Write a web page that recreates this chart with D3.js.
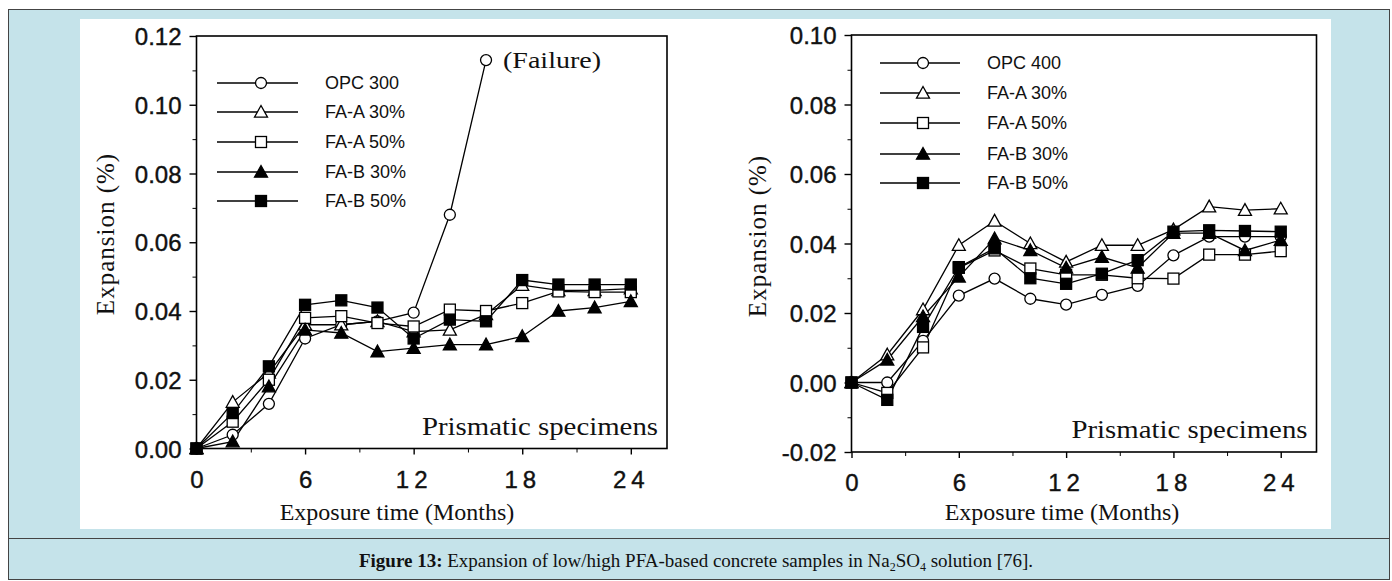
<!DOCTYPE html>
<html>
<head>
<meta charset="utf-8">
<script src="https://cdn.jsdelivr.net/npm/d3@7"></script>
<style>
  html, body { margin: 0; padding: 0; background: #fff; }
  svg { display: block; }
</style>
</head>
<body>
<div id="fig"></div>
<script>
// ---------------------------------------------
// Daten
// ---------------------------------------------
const months = [0, 2, 4, 6, 8, 10, 12, 14, 16, 18, 20, 22, 24];
const seriesNamesLeft  = ["OPC 300", "FA-A 30%", "FA-A 50%", "FA-B 30%", "FA-B 50%"];
const seriesNamesRight = ["OPC 400", "FA-A 30%", "FA-A 50%", "FA-B 30%", "FA-B 50%"];
const markerTypes = ["circle", "triangle", "square", "triangleFill", "squareFill"];

// linke Grafik (OPC 300 endet bei 16 Monaten -> Versagen)
const leftOPC   = [0, 0.004, 0.013, 0.032, 0.036, 0.037, 0.0395, 0.068, 0.113];
const leftFAA30 = [0, 0.0135, 0.022, 0.036, 0.036, 0.037, 0.034, 0.0345, 0.039, 0.0475, 0.046, 0.046, 0.0465];
const leftFAA50 = [0, 0.0078, 0.020, 0.038, 0.0385, 0.0365, 0.0355, 0.0404, 0.040, 0.0423, 0.0457, 0.0455, 0.0455];
const leftFAB30 = [0, 0.002, 0.018, 0.0345, 0.0336, 0.0282, 0.0292, 0.0302, 0.0302, 0.0326, 0.040, 0.041, 0.0428];
const leftFAB50 = [0, 0.0103, 0.0239, 0.0418, 0.0431, 0.041, 0.032, 0.0375, 0.037, 0.049, 0.0477, 0.0477, 0.0477];

// rechte Grafik
const rightOPC   = [0, 0.000, 0.012, 0.025, 0.0299, 0.0241, 0.0224, 0.0252, 0.0278, 0.0366, 0.042, 0.042, 0.042];
const rightFAA30 = [0, 0.008, 0.021, 0.0395, 0.0465, 0.040, 0.0347, 0.0395, 0.0395, 0.044, 0.0506, 0.0496, 0.050];
const rightFAA50 = [0, -0.003, 0.0101, 0.033, 0.038, 0.0328, 0.031, 0.031, 0.030, 0.0299, 0.0368, 0.0368, 0.0378];
const rightFAB30 = [0, 0.0065, 0.019, 0.0304, 0.0414, 0.038, 0.033, 0.0361, 0.033, 0.043, 0.043, 0.038, 0.041];
const rightFAB50 = [0, -0.005, 0.016, 0.0332, 0.0386, 0.030, 0.0284, 0.0313, 0.0352, 0.0434, 0.0438, 0.0436, 0.0434];

// Achsen-Ticks
const xMajorTicks = [0, 6, 12, 18, 24];
const xMinorTicks = [3, 9, 15, 21];
const yMajorLeft  = [0, 0.02, 0.04, 0.06, 0.08, 0.10, 0.12];
const yMinorLeft  = [0.01, 0.03, 0.05, 0.07, 0.09, 0.11];
const yMajorRight = [-0.02, 0, 0.02, 0.04, 0.06, 0.08, 0.10];
const yMinorRight = [-0.01, 0.01, 0.03, 0.05, 0.07, 0.09];

// ---------------------------------------------
// Layout
// ---------------------------------------------
const W = 1392, H = 581;
const SANS = "'Liberation Sans', Arial, sans-serif";
const SERIF = "'Liberation Serif', 'Times New Roman', serif";

const svg = d3.select("#fig").append("svg").attr("width", W).attr("height", H);

// Hintergrund / Rahmen
svg.append("rect").attr("x", 8.5).attr("y", 9.5).attr("width", 1381).attr("height", 570)
  .attr("fill", "#c5e3ea").attr("stroke", "#444").attr("stroke-width", 1);
svg.append("rect").attr("x", 80).attr("y", 19).attr("width", 1251).attr("height", 510)
  .attr("fill", "#fff");
svg.append("line").attr("x1", 8).attr("x2", 1390).attr("y1", 538.5).attr("y2", 538.5)
  .attr("stroke", "#444").attr("stroke-width", 1);

// Bildunterschrift
const cap = svg.append("text").attr("x", 696).attr("y", 567)
  .attr("text-anchor", "middle").style("font-family", SERIF).style("font-size", "19px").attr("fill", "#111");
cap.append("tspan").attr("font-weight", "bold").text("Figure 13:");
cap.append("tspan").text(" Expansion of low/high PFA-based concrete samples in Na");
cap.append("tspan").attr("font-size", "12px").attr("dy", 4).text("2");
cap.append("tspan").attr("dy", -4).text("SO");
cap.append("tspan").attr("font-size", "12px").attr("dy", 4).text("4");
cap.append("tspan").attr("dy", -4).text(" solution [76].");

// ---------------------------------------------
// Helper
// ---------------------------------------------
function drawMarker(g, type, cx, cy) {
  const open = type === "circle" || type === "triangle" || type === "square";
  const fill = open ? "#fff" : "#000";
  if (type === "circle") {
    g.append("circle").attr("cx", cx).attr("cy", cy).attr("r", 5.5)
      .attr("fill", fill).attr("stroke", "#000").attr("stroke-width", 1.3);
  } else if (type === "square" || type === "squareFill") {
    g.append("rect").attr("x", cx - 5.5).attr("y", cy - 5.5).attr("width", 11).attr("height", 11)
      .attr("fill", fill).attr("stroke", "#000").attr("stroke-width", 1.3);
  } else {
    const s = 6.5;
    g.append("path").attr("d", `M${cx},${cy - s}L${cx + s},${cy + s * 0.8}L${cx - s},${cy + s * 0.8}Z`)
      .attr("fill", fill).attr("stroke", "#000").attr("stroke-width", 1.3);
  }
}

function drawPanel(cfg) {
  const { x0, x1, yTop, yBot, yDomain, yMajor, yMinor, series, names, legend, titleX, titleY, xTitleX } = cfg;

  const x = d3.scaleLinear().domain([0, 26]).range([x0, x1]);
  const y = d3.scaleLinear().domain(yDomain).range([yBot, yTop]);
  const g = svg.append("g");

  // Rahmen
  g.append("rect").attr("x", x0).attr("y", yTop).attr("width", x1 - x0).attr("height", yBot - yTop)
    .attr("fill", "none").attr("stroke", "#000").attr("stroke-width", 1.6);

  // y-Achse
  const ya = g.append("g").attr("transform", `translate(${x0},0)`)
    .call(d3.axisLeft(y).tickValues(yMajor).tickSize(7).tickSizeOuter(0).tickFormat(d => d.toFixed(2)));
  ya.select(".domain").remove();
  ya.selectAll("line").attr("stroke-width", 1.4);
  ya.selectAll("text").attr("x", -15).attr("dy", "0.36em")
    .style("font-family", SANS).style("font-size", "24px").attr("fill", "#111")
    .attr("stroke", "#111").attr("stroke-width", 0.4);
  const ym = g.append("g").attr("transform", `translate(${x0},0)`)
    .call(d3.axisLeft(y).tickValues(yMinor).tickSize(4).tickFormat(""));
  ym.select(".domain").remove();

  // x-Achse
  const xa = g.append("g").attr("transform", `translate(0,${yBot})`)
    .call(d3.axisBottom(x).tickValues(xMajorTicks).tickSize(6).tickSizeOuter(0));
  xa.select(".domain").remove();
  xa.selectAll("line").attr("stroke-width", 1.4);
  xa.selectAll("text").attr("y", 22)
    .style("font-family", SANS).style("font-size", "24px").attr("fill", "#111")
    .attr("stroke", "#111").attr("stroke-width", 0.4)
    .style("letter-spacing", d => d >= 10 ? "5px" : "0px");
  const xm = g.append("g").attr("transform", `translate(0,${yBot})`)
    .call(d3.axisBottom(x).tickValues(xMinorTicks).tickSize(4).tickFormat(""));
  xm.select(".domain").remove();

  // Achsentitel
  g.append("text").attr("transform", `translate(${titleX},${titleY}) rotate(-90)`)
    .attr("text-anchor", "middle").attr("dy", "0.35em")
    .style("font-family", SERIF).style("font-size", "25px").style("letter-spacing", "1px")
    .attr("fill", "#111").text("Expansion  (%)");
  g.append("text").attr("x", xTitleX).attr("y", 520).attr("text-anchor", "middle")
    .style("font-family", SERIF).style("font-size", "24px").attr("fill", "#111")
    .text(cfg.xTitle);

  g.append("text").attr("x", x1 - 9).attr("y", yBot - 14).attr("text-anchor", "end")
    .style("font-family", SERIF).style("font-size", "26px").attr("fill", "#111")
    .attr("textLength", 236).attr("lengthAdjust", "spacingAndGlyphs")
    .text("Prismatic specimens");

  // Linien + Marker
  const line = d3.line().x((d, i) => x(months[i])).y(d => y(d));
  series.forEach((vals, k) => {
    g.append("path").datum(vals).attr("d", line)
      .attr("fill", "none").attr("stroke", "#000").attr("stroke-width", 1.3);
  });
  series.forEach((vals, k) => {
    vals.forEach((v, i) => drawMarker(g, markerTypes[k], x(months[i]), y(v)));
  });

  // Legende
  names.forEach((nm, k) => {
    const ly = legend.y[k];
    g.append("line").attr("x1", legend.x1).attr("x2", legend.x2).attr("y1", ly).attr("y2", ly)
      .attr("stroke", "#000").attr("stroke-width", 1.3);
    drawMarker(g, markerTypes[k], legend.xm, ly);
    g.append("text").attr("x", legend.xt).attr("y", ly).attr("dy", "0.36em")
      .style("font-family", SANS).style("font-size", "18px").attr("fill", "#111").text(nm);
  });

  return { g, x, y };
}

// ---------------------------------------------
// linke Grafik
// ---------------------------------------------
const left = drawPanel({
  x0: 196.5, x1: 667, yTop: 36, yBot: 448.5,
  yDomain: [0, 0.12], yMajor: yMajorLeft, yMinor: yMinorLeft,
  series: [leftOPC, leftFAA30, leftFAA50, leftFAB30, leftFAB50],
  names: seriesNamesLeft,
  legend: { x1: 217, x2: 298, xm: 261, xt: 325, y: [83, 112, 142, 172, 201] },
  titleX: 105, titleY: 234, xTitleX: 397, xTitle: "Exposure time  (Months)"
});
// Versagen-Label
left.g.append("text").attr("x", left.x(16) + 17).attr("y", left.y(0.113) + 8)
  .style("font-family", SERIF).style("font-size", "24px").attr("fill", "#111")
  .attr("textLength", 98).attr("lengthAdjust", "spacingAndGlyphs")
  .text("(Failure)");

// ---------------------------------------------
// rechte Grafik
// ---------------------------------------------
drawPanel({
  x0: 851.5, x1: 1316.5, yTop: 35, yBot: 452,
  yDomain: [-0.02, 0.10], yMajor: yMajorRight, yMinor: yMinorRight,
  series: [rightOPC, rightFAA30, rightFAA50, rightFAB30, rightFAB50],
  names: seriesNamesRight,
  legend: { x1: 880, x2: 960, xm: 923, xt: 987, y: [63, 93, 123, 154, 183] },
  titleX: 757, titleY: 236, xTitleX: 1062, xTitle: "Exposure time (Months)"
});
</script>
</body>
</html>
